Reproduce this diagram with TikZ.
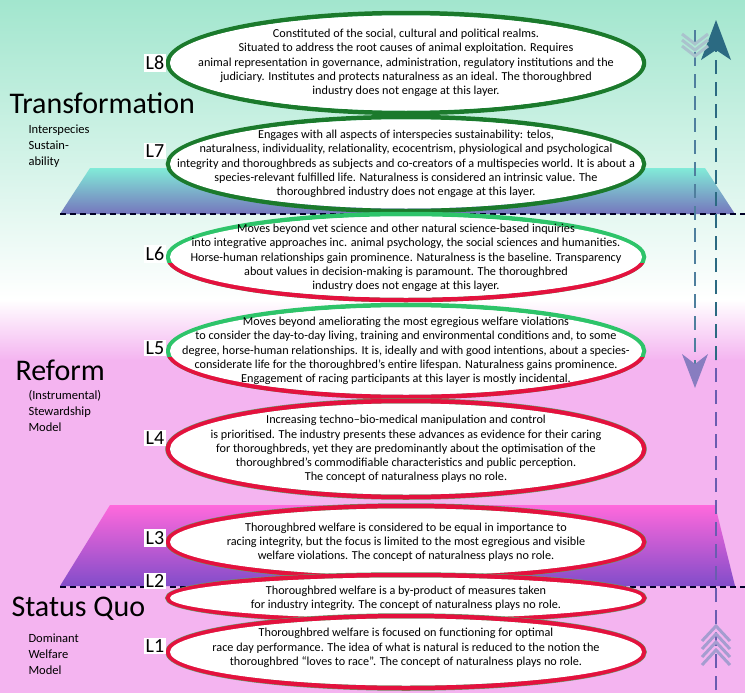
\documentclass[tikz,border=0pt]{standalone}
\usepackage{fontspec}
\setmainfont{Carlito}
\usetikzlibrary{calc,shapes.geometric}
\definecolor{bgteal}{HTML}{A2E6CE}
\definecolor{bgpink}{HTML}{F4B4F0}
\definecolor{ringgreen}{HTML}{1B7A2C}
\definecolor{ringlight}{HTML}{2EC46A}
\definecolor{ringred}{HTML}{E3123E}
\definecolor{arrowteal}{HTML}{2B6A82}
\definecolor{arrowblue}{HTML}{4F7F9E}
\definecolor{arrowpurple}{HTML}{6A5CB0}
\tikzset{
  ring/.style={line width=4.5pt},
  ringtext/.style={align=center, font=\fontsize{12.2}{14.2}\selectfont},
  lvl/.style={fill=white, font=\fontsize{20}{20}\selectfont, inner sep=2pt},
  stage/.style={anchor=west, font=\fontsize{30}{30}\selectfont},
  substage/.style={anchor=north west, align=left, font=\fontsize{12.5}{16}\selectfont},
  divider/.style={line width=1.6pt, dash pattern=on 6pt off 4pt, black!85!blue}
}
\begin{document}
\begin{tikzpicture}[x=1pt,y=-1pt]
    \useasboundingbox (0,0) rectangle (745,696);
    % background
    \shade[top color=bgteal, bottom color=white] (0,0) rectangle (745,300);
    \shade[top color=white, bottom color=bgpink] (0,300) rectangle (745,360);
    \fill[bgpink] (0,360) rectangle (745,696);
    \fill[white] (0,693) rectangle (745,696);

    % platforms
    \shade[top color=bgteal!80!cyan, bottom color=blue!35!gray!80] (90,168) -- (705,168) -- (735,214) -- (60,214) -- cycle;
    \shade[top color=magenta!45!pink, bottom color=violet!60!blue!70] (110,505) -- (715,505) -- (735,586) -- (60,586) -- cycle;
    \draw[divider] (60,214) -- (745,214);
    \draw[divider] (60,587) -- (745,587);

    % direction arrows
    \coordinate (dtop) at (695,30);
    \coordinate (dbot) at (695,388);
    \coordinate (utop) at (716,20);
    \coordinate (ubot) at (716,690);
    \draw[arrowblue, line width=2.5pt, dash pattern=on 14pt off 8pt] (dtop) -- ($(dbot)+(0,-20)$);
    \fill[arrowpurple!80] (dbot) -- ++(-13,-34) -- ++(13,10) -- ++(13,-10) -- cycle;
    \draw[arrowpurple, line width=2.5pt, dash pattern=on 14pt off 8pt] (ubot) -- (716,360);
    \draw[arrowteal, line width=2.5pt, dash pattern=on 14pt off 8pt] (716,360) -- ($(utop)+(0,20)$);
    \fill[arrowteal] (utop) -- ++(-15,40) -- ++(15,-10) -- ++(15,10) -- cycle;
    \foreach \k in {0,1,2}
      \draw[arrowteal!40, line width=3pt] (682,34+6*\k) -- (695,44+6*\k) -- (708,34+6*\k);
    \foreach \k in {0,1,2,3}
      \draw[arrowpurple!60, line width=3pt] (702,665-8*\k) -- (716,650-8*\k) -- (730,665-8*\k);

    % rings
    \foreach \n/\y/\h/\c in {8/63/100/g, 7/164/94/g, 6/257/86/m, 5/351/92/m, 4/449/96/r, 3/542/72/r, 2/598/46/r, 1/652/72/r}
    {
      \coordinate (e\n) at (406,\y);
      \if\c g
        \draw[ring, ringgreen] (e\n) ellipse [x radius=238, y radius=\h/2];
      \fi
      \if\c m
        \draw[ring, ringlight] (e\n) ellipse [x radius=238, y radius=\h/2];
        \begin{scope}
          \clip (150,\y+6) rectangle (660,\y+60);
          \draw[ring, ringred] (e\n) ellipse [x radius=238, y radius=\h/2];
        \end{scope}
      \fi
      \if\c r
        \draw[line width=5.5pt, ringgreen!70] (e\n) ellipse [x radius=238, y radius=\h/2];
        \draw[ring, ringred] (e\n) ellipse [x radius=238, y radius=\h/2];
      \fi
      \fill[white] (e\n) ellipse [x radius=236, y radius=\h/2-2.5];
    }

    % texts
    \node[ringtext] (t8) at (e8) {Constituted of the social, cultural and political realms.\\Situated to address the root causes of animal exploitation. Requires\\animal representation in governance, administration, regulatory institutions and the\\judiciary. Institutes and protects naturalness as an ideal. The thoroughbred\\industry does not engage at this layer.};
    \node[ringtext] (t7) at (e7) {Engages with all aspects of interspecies sustainability: telos,\\naturalness, individuality, relationality, ecocentrism, physiological and psychological\\integrity and thoroughbreds as subjects and co-creators of a multispecies world. It is about a\\species-relevant fulfilled life. Naturalness is considered an intrinsic value. The\\thoroughbred industry does not engage at this layer.};
    \node[ringtext] (t6) at ($(e6)+(0,1)$) {Moves beyond vet science and other natural science-based inquiries\\into integrative approaches inc. animal psychology, the social sciences and humanities.\\Horse-human relationships gain prominence. Naturalness is the baseline. Transparency\\about values in decision-making is paramount. The thoroughbred\\industry does not engage at this layer.};
    \node[ringtext] (t5) at (e5) {Moves beyond ameliorating the most egregious welfare violations\\to consider the day-to-day living, training and environmental conditions and, to some\\degree, horse-human relationships. It is, ideally and with good intentions, about a species-\\considerate life for the thoroughbred's entire lifespan. Naturalness gains prominence.\\Engagement of racing participants at this layer is mostly incidental.};
    \node[ringtext] (t4) at (e4) {Increasing techno--bio-medical manipulation and control\\is prioritised. The industry presents these advances as evidence for their caring\\for thoroughbreds, yet they are predominantly about the optimisation of the\\thoroughbred's commodifiable characteristics and public perception.\\The concept of naturalness plays no role.};
    \node[ringtext] (t3) at (e3) {Thoroughbred welfare is considered to be equal in importance to\\racing integrity, but the focus is limited to the most egregious and visible\\welfare violations. The concept of naturalness plays no role.};
    \node[ringtext] (t2) at (e2) {Thoroughbred welfare is a by-product of measures taken\\for industry integrity. The concept of naturalness plays no role.};
    \node[ringtext] (t1) at ($(e1)+(0,-4)$) {Thoroughbred welfare is focused on functioning for optimal\\race day performance. The idea of what is natural is reduced to the notion the\\thoroughbred ``loves to race''. The concept of naturalness plays no role.};

    % level tags
    \foreach \n/\y in {8/63, 7/151, 6/254, 5/348, 4/438, 3/538, 2/581, 1/646}
      \node[lvl] (l\n) at (155,\y) {L\n};

    % stages
    \node[stage] (transformation) at (6,103) {Transformation};
    \node[substage] (interspecies) at (25,121) {Interspecies\\Sustain-\\ability};
    \node[stage] (reform) at (12,370) {Reform};
    \node[substage] (stewardship) at (25,387) {(Instrumental)\\Stewardship\\Model};
    \node[stage] (statusquo) at (8,609) {Status Quo};
    \node[substage] (dominant) at (25,630) {Dominant\\Welfare\\Model};
\end{tikzpicture}
\end{document}
